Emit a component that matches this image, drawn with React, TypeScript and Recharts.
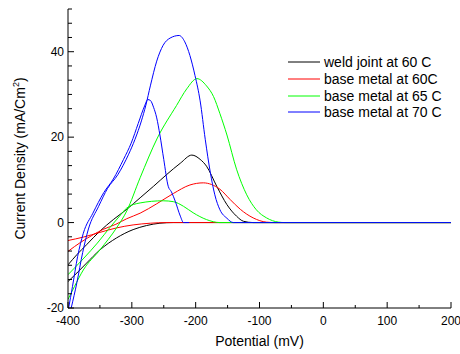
import { LineChart, Line, XAxis, YAxis, Legend, Label } from "recharts";

// potential (mV), current density (mA/cm2), two sweeps per curve
const weldLower = [
  [-400, -13.8], [-386, -11.8], [-371, -9.5], [-350, -6.4], [-324, -3.6], [-298, -1.65],
  [-277, -0.7], [-256, -0.15], [-235, 0], [200, 0],
];
const weldUpper = [
  [-400, -9.9], [-386, -7.5], [-371, -5.2], [-350, -2.0], [-329, 0.7], [-308, 3.1],
  [-287, 5.8], [-266, 8.5], [-245, 11.3], [-224, 13.9], [-206, 15.8], [-193, 14.8],
  [-183, 13.2], [-167, 8.5], [-151, 4.2], [-136, 1.5], [-125, 0.3], [-110, 0], [200, 0],
];
const base60Lower = [
  [-400, -4.2], [-376, -3.4], [-350, -2.3], [-324, -1.25], [-298, -0.55], [-271, -0.15],
  [-245, 0], [200, 0],
];
const base60Upper = [
  [-400, -6.75], [-380, -4.6], [-360, -2.8], [-345, -1.6], [-325, -0.4], [-308, 0.9],
  [-287, 2.2], [-261, 4.4], [-235, 6.8], [-209, 8.8], [-188, 9.3], [-175, 8.9],
  [-162, 7.8], [-146, 5.4], [-130, 3.1], [-110, 1.1], [-89, 0.1], [-75, 0], [200, 0],
];
const base65Lower = [
  [-400, -12.2], [-375, -8.3], [-354, -4.8], [-333, -0.9], [-317, 1.9], [-308, 3.4],
  [-287, 4.6], [-251, 5.1], [-235, 4.9], [-219, 3.8], [-204, 2.3], [-183, 0.7],
  [-162, 0], [200, 0],
];
const base65Upper = [
  [-400, -18], [-390, -15], [-376, -11.1], [-350, -6.4], [-324, -1.25], [-308, 2.7],
  [-287, 10.5], [-260, 19.8], [-230, 27.4], [-214, 31.3], [-198, 33.7], [-183, 32.0],
  [-172, 29.5], [-162, 25.5], [-151, 20.5], [-136, 12.5], [-120, 6.5], [-105, 3.0],
  [-89, 1.1], [-70, 0.1], [-60, 0], [200, 0],
];
const base70Small = [
  [-399, -20], [-393, -15], [-385, -8], [-376, -2.5], [-361, 2.2], [-344, 7.0],
  [-329, 10.2], [-313, 14.8], [-301, 18.6], [-290, 23.2], [-280, 27.3], [-275, 28.8],
  [-271, 28.6], [-266, 27.0], [-261, 24.5], [-256, 20.5], [-250, 14.8], [-243, 8.5], [-238, 7.2],
  [-232, 5.0], [-224, 1.5], [-219, 0], [-210, 0],
];
const base70Big = [
  [-395, -20], [-386, -14], [-377, -7], [-368, -1.5], [-352, 3.8], [-338, 8.0],
  [-322, 11.2], [-305, 16.0], [-295, 19.5], [-285, 23.8], [-278, 27.5], [-271, 32],
  [-261, 37.8], [-251, 41.5], [-240, 43.2], [-226, 43.8], [-217, 42.3], [-209, 39.1],
  [-201, 34.4], [-193, 28.5], [-185, 19.5], [-177, 11.7], [-170, 6.5], [-162, 3.0],
  [-151, 1.0], [-141, 0], [200, 0],
];

const seriesNames = ["weld joint at 60 C", "base metal at 60C", "base metal at 65 C", "base metal at 70 C"];
const seriesColors = ["#000000", "#ff0000", "#00ff00", "#0000ff"];
const seriesBranches = [
  [weldLower, weldUpper],
  [base60Lower, base60Upper],
  [base65Lower, base65Upper],
  [base70Small, base70Big],
];

const xTicks = [-400, -350, -300, -250, -200, -150, -100, -50, 0, 50, 100, 150, 200];
const yTicks = Array.from({ length: 22 }, (_, i) => -20 + (i * 20) / 6);

const FONT = "'Liberation Sans', Arial, sans-serif";

const toRows = (pts: number[][]) => pts.map(([x, y]) => ({ x, y }));

const XTick = (props: any) => {
  const { x, y, payload } = props;
  const major = payload.value % 100 === 0;
  return (
    <g>
      <line x1={x} x2={x} y1={y} y2={y - (major ? 6 : 3)} stroke="#000" />
      {major && (
        <text x={x} y={y + 17} textAnchor="middle" fontSize={12} fontFamily={FONT} fill="#000">
          {payload.value}
        </text>
      )}
    </g>
  );
};

const YTick = (props: any) => {
  const { x, y, payload } = props;
  const v = payload.value;
  const major = Math.abs(v / 20 - Math.round(v / 20)) < 1e-6;
  return (
    <g>
      <line x1={x} x2={x + (major ? 6 : 4)} y1={y} y2={y} stroke="#000" />
      {major && (
        <text x={x - 4} y={y + 4} textAnchor="end" fontSize={12} fontFamily={FONT} fill="#000">
          {Math.round(v)}
        </text>
      )}
    </g>
  );
};

const XTitle = (props: any) => {
  const vb = props.viewBox;
  return (
    <text x={vb.x + vb.width / 2} y={vb.y + 38} textAnchor="middle" fontSize={14} fontFamily={FONT} fill="#000">
      Potential (mV)
    </text>
  );
};

const YTitle = (props: any) => {
  const vb = props.viewBox;
  const cy = vb.y + vb.height / 2;
  return (
    <text x={25} y={cy} transform={`rotate(-90 25 ${cy})`} textAnchor="middle" fontSize={14} fontFamily={FONT} fill="#000">
      Current Density (mA/Cm
      <tspan fontSize={9} dy={-6}>2</tspan>
      <tspan dy={6}>)</tspan>
    </text>
  );
};

const LegendBox = () => (
  <div style={{ fontFamily: FONT, fontSize: 14, color: "#000" }}>
    {seriesNames.map((name, i) => (
      <div key={name} style={{ display: "flex", alignItems: "center", height: 16.7, whiteSpace: "nowrap" }}>
        <svg width={36} height={4} style={{ display: "block" }}>
          <line x1={0} x2={32} y1={2} y2={2} stroke={seriesColors[i]} strokeWidth={1} />
        </svg>
        <span>{name}</span>
      </div>
    ))}
  </div>
);

export default function App() {
  return (
    <div style={{ position: "absolute", left: 0, top: 0, width: 460, height: 354, background: "#fff" }}>
      <LineChart width={460} height={354} margin={{ top: 9, right: 9, left: 0, bottom: 0 }}>
        <XAxis
          dataKey="x"
          type="number"
          domain={[-400, 200]}
          ticks={xTicks}
          interval={0}
          height={46}
          tickSize={0}
          tickMargin={0}
          tickLine={false}
          tick={<XTick />}
          axisLine={{ stroke: "#000" }}
          allowDataOverflow
        >
          <Label content={<XTitle />} />
        </XAxis>
        <YAxis
          type="number"
          domain={[-20, 50]}
          ticks={yTicks}
          interval={0}
          width={68}
          tickSize={0}
          tickMargin={0}
          tickLine={false}
          tick={<YTick />}
          axisLine={{ stroke: "#000" }}
          allowDataOverflow
        >
          <Label content={<YTitle />} />
        </YAxis>
        <Legend
          layout="horizontal"
          verticalAlign="middle"
          align="center"
          content={<LegendBox />}
          wrapperStyle={{ position: "absolute", left: 288, top: 54, width: 170 }}
        />
        {seriesBranches.flatMap((branches, si) =>
          branches.map((b, bi) => (
            <Line
              key={`${si}-${bi}`}
              data={toRows(b)}
              dataKey="y"
              type="monotone"
              stroke={seriesColors[si]}
              strokeWidth={1}
              dot={false}
              legendType="none"
              isAnimationActive={false}
            />
          ))
        )}
      </LineChart>
    </div>
  );
}
